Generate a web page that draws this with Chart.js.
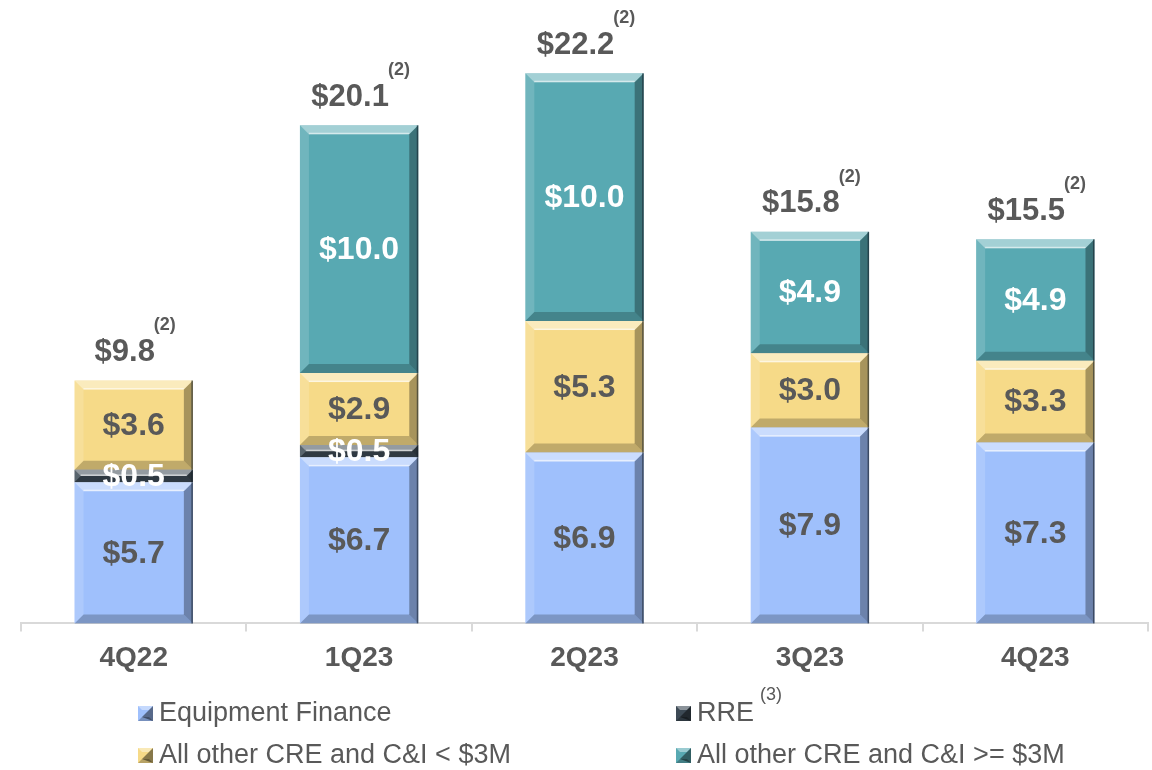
<!DOCTYPE html>
<html>
<head>
<meta charset="utf-8">
<script src="https://cdn.jsdelivr.net/npm/chart.js@4"></script>
<style>
  html, body { margin: 0; padding: 0; background: #ffffff; }
  #wrap { width: 1152px; height: 770px; position: relative; }
</style>
</head>
<body>
<div id="wrap"><canvas id="loans"></canvas></div>
<script>
const quarters = ["4Q22", "1Q23", "2Q23", "3Q23", "4Q23"];
const equipmentFinance = [5.7, 6.7, 6.9, 7.9, 7.3];
const rre = [0.5, 0.5, 0, 0, 0];
const creUnder3M = [3.6, 2.9, 5.3, 3.0, 3.3];
const creOver3M = [0, 10.0, 10.0, 4.9, 4.9];
const totalNote = "(2)";

const TEXT = "#595959";
const FONT = "'Liberation Sans', Arial, sans-serif";

const series = [
  { label: "Equipment Finance", data: equipmentFinance, color: "#9fc0fc", text: TEXT },
  { label: "RRE", note: "(3)", data: rre, color: "#3d4a55", text: "#ffffff" },
  { label: "All other CRE and C&I < $3M", data: creUnder3M, color: "#f6da88", text: TEXT },
  { label: "All other CRE and C&I >= $3M", data: creOver3M, color: "#58a9b2", text: "#ffffff" },
];

const totals = quarters.map((_, i) => series.reduce((s, d) => s + d.data[i], 0));

// bevelled edges on each bar segment
const bevelPlugin = {
  id: "bevel",
  afterDatasetsDraw(chart) {
    const ctx = chart.ctx;
    chart.data.datasets.forEach((ds, di) => {
      chart.getDatasetMeta(di).data.forEach((bar) => {
        const { x, y, base, width } = bar.getProps(["x", "y", "base", "width"], true);
        const l = x - width / 2, r = x + width / 2;
        const t = Math.min(y, base), b = Math.max(y, base);
        const h = b - t;
        if (h < 1) return;
        const k = Math.min(9, h / 2);
        const quad = (pts, fill) => {
          ctx.beginPath();
          ctx.moveTo(pts[0], pts[1]);
          for (let p = 2; p < pts.length; p += 2) ctx.lineTo(pts[p], pts[p + 1]);
          ctx.closePath();
          ctx.fillStyle = fill;
          ctx.fill();
        };
        ctx.save();
        quad([l, t, r, t, r - k, t + k, l + k, t + k], "rgba(255,255,255,0.45)");
        quad([l, t, l + k, t + k, l + k, b - k, l, b], "rgba(255,255,255,0.15)");
        quad([r, t, r, b, r - k, b - k, r - k, t + k], "rgba(0,0,0,0.32)");
        quad([l, b, l + k, b - k, r - k, b - k, r, b], "rgba(0,0,0,0.22)");
        ctx.fillStyle = "rgba(255,255,255,0.55)";
        ctx.fillRect(l + k, t + k - 1.5, width - 2 * k, 1.5);
        ctx.strokeStyle = "rgba(20,30,40,0.55)";
        ctx.lineWidth = 1.5;
        ctx.beginPath();
        ctx.moveTo(r - 0.75, t);
        ctx.lineTo(r - 0.75, b);
        ctx.stroke();
        ctx.restore();
      });
    });
  },
};

// segment values, stack totals and the legend
const labelPlugin = {
  id: "labels",
  afterDraw(chart) {
    const ctx = chart.ctx;
    const yScale = chart.scales.y;
    const xScale = chart.scales.x;
    ctx.save();
    ctx.textBaseline = "middle";
    ctx.textAlign = "center";
    ctx.font = "bold 32px " + FONT;
    chart.data.datasets.forEach((ds, di) => {
      chart.getDatasetMeta(di).data.forEach((bar, i) => {
        const v = ds.data[i];
        if (!v) return;
        const { x, y, base } = bar.getProps(["x", "y", "base"], true);
        ctx.fillStyle = series[di].text;
        ctx.fillText("$" + v.toFixed(1), x, (y + base) / 2 + 1);
      });
    });

    totals.forEach((tot, i) => {
      const x = xScale.getPixelForValue(i);
      const y = yScale.getPixelForValue(tot) - 28;
      const txt = "$" + tot.toFixed(1);
      ctx.font = "bold 31px " + FONT;
      const w = ctx.measureText(txt).width;
      ctx.font = "bold 18px " + FONT;
      const nw = ctx.measureText(totalNote).width;
      const x0 = x - (w + nw) / 2 + 2;
      ctx.textAlign = "left";
      ctx.fillStyle = TEXT;
      ctx.font = "bold 31px " + FONT;
      ctx.fillText(txt, x0, y);
      ctx.font = "bold 18px " + FONT;
      ctx.fillText(totalNote, x0 + w - 1, y - 27);
    });

    // legend, two columns
    const cols = [138, 676];
    const rows = [713, 755];
    series.forEach((s, i) => {
      const lx = cols[i % 2];
      const ly = rows[Math.floor(i / 2)];
      const sz = 15, k = 4;
      const t = ly - 7, l = lx;
      ctx.fillStyle = s.color;
      ctx.fillRect(l, t, sz, sz);
      ctx.fillStyle = "rgba(255,255,255,0.4)";
      ctx.beginPath();
      ctx.moveTo(l, t); ctx.lineTo(l + sz, t); ctx.lineTo(l + sz - k, t + k); ctx.lineTo(l + k, t + k);
      ctx.closePath(); ctx.fill();
      ctx.fillStyle = "rgba(0,0,0,0.45)";
      ctx.beginPath();
      ctx.moveTo(l + sz, t); ctx.lineTo(l + sz, t + sz); ctx.lineTo(l + k, t + sz - k); ctx.lineTo(l + sz - k, t + k);
      ctx.closePath(); ctx.fill();
      ctx.fillStyle = "rgba(0,0,0,0.25)";
      ctx.beginPath();
      ctx.moveTo(l, t + sz); ctx.lineTo(l + sz, t + sz); ctx.lineTo(l + sz - k, t + sz - k); ctx.lineTo(l + k, t + sz - k);
      ctx.closePath(); ctx.fill();

      ctx.textAlign = "left";
      ctx.fillStyle = TEXT;
      ctx.font = "27px " + FONT;
      ctx.fillText(s.label, lx + 21, ly + 1);
      if (s.note) {
        const w = ctx.measureText(s.label).width;
        ctx.font = "18px " + FONT;
        ctx.fillText(s.note, lx + 21 + w + 6, ly - 18);
      }
    });
    ctx.restore();
  },
};

new Chart(document.getElementById("loans"), {
  type: "bar",
  data: {
    labels: quarters,
    datasets: series.map((s) => ({
      label: s.label,
      data: s.data,
      backgroundColor: s.color,
      borderWidth: 0,
      categoryPercentage: 1,
      barPercentage: 0.525,
    })),
  },
  options: {
    responsive: true,
    maintainAspectRatio: false,
    animation: false,
    layout: { padding: { left: 21, right: 4, top: 10, bottom: 85 } },
    plugins: { legend: { display: false }, tooltip: { enabled: false } },
    scales: {
      x: {
        stacked: true,
        offset: true,
        grid: {
          offset: true,
          drawOnChartArea: false,
          drawTicks: true,
          tickLength: 8,
          color: "#d9d9d9",
          lineWidth: 2,
        },
        border: { color: "#d9d9d9", width: 2 },
        ticks: {
          color: TEXT,
          padding: 10,
          font: { family: FONT, size: 28, weight: "bold" },
        },
      },
      y: {
        stacked: true,
        display: false,
        min: 0,
        max: 24.75,
      },
    },
  },
  plugins: [bevelPlugin, labelPlugin],
});
</script>
</body>
</html>
